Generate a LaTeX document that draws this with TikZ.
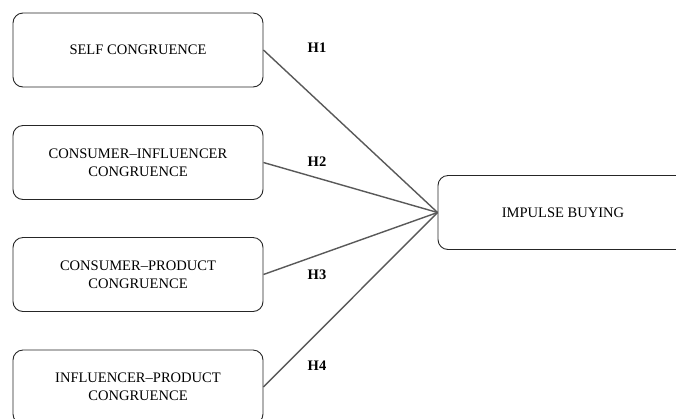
\documentclass[tikz,border=0pt]{standalone}
\usepackage{fontspec}
\setmainfont{Liberation Serif}
\begin{document}
\begin{tikzpicture}[x=1bp,y=-1bp,
  construct/.style={draw=black!85, line width=0.9bp, rounded corners=10bp,
    minimum width=250bp, minimum height=74bp, inner sep=0pt, align=center,
    font=\fontsize{14.6}{18}\selectfont},
  hyp/.style={font=\fontsize{14.6}{18}\selectfont\bfseries, inner sep=0pt},
  link/.style={draw=black!65, line width=1.4bp}]
\clip (0,0) rectangle (676,418);
\fill[white] (0,0) rectangle (676,418);
% independent constructs
\node[construct] (self) at (138,50) {SELF CONGRUENCE};
\node[construct] (ci) at (138,162.5) {CONSUMER–INFLUENCER\\CONGRUENCE};
\node[construct] (cp) at (138,274.5) {CONSUMER–PRODUCT\\CONGRUENCE};
\node[construct] (ip) at (138,387) {INFLUENCER–PRODUCT\\CONGRUENCE};
% dependent construct
\node[construct] (ib) at (563,212.5) {IMPULSE BUYING};
% hypothesised paths
\draw[link] (self.east) -- (ib.west);
\draw[link] (ci.east) -- (ib.west);
\draw[link] (cp.east) -- (ib.west);
\draw[link] (ip.east) -- (ib.west);
% hypothesis labels
\node[hyp] (h1) at (317,48) {H1};
\node[hyp] (h2) at (317,161.5) {H2};
\node[hyp] (h3) at (317,274.5) {H3};
\node[hyp] (h4) at (317,366) {H4};
\end{tikzpicture}
\end{document}
